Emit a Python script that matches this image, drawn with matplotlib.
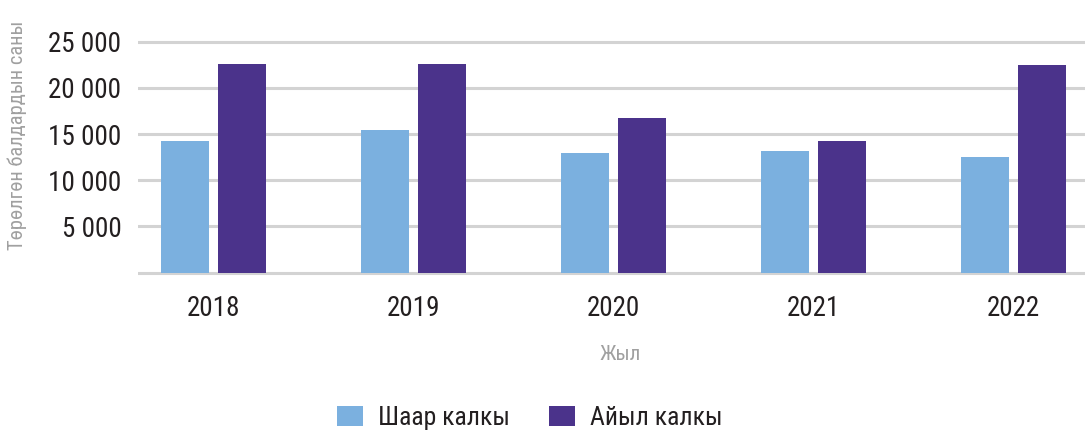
import numpy as np
import matplotlib
matplotlib.use("Agg")
import matplotlib.pyplot as plt

plt.rcParams['font.family'] = ['Roboto Condensed', 'Roboto', 'DejaVu Sans']

# data
years = ["2018", "2019", "2020", "2021", "2022"]
city = [14250, 15440, 12950, 13170, 12520]
rural = [22590, 22590, 16740, 14250, 22480]
series_names = ["Шаар калкы", "Айыл калкы"]
yticks = [0, 5000, 10000, 15000, 20000, 25000]
ytick_labels = ["", "5 000", "10 000", "15 000", "20 000", "25 000"]

c_city = "#7BB0DF"
c_rural = "#4B338B"
text_dark = "#231F20"
text_gray = "#A0A0A0"

fig = plt.figure(figsize=(10.85, 4.3), dpi=100)
ax = fig.add_axes([138 / 1085, 1 - 277.3 / 430, 1 - 138 / 1085, (277.3 - 37.1) / 430])

x = np.arange(len(years))
w = 0.24
off = 0.1425
ax.bar(x - off, city, w, color=c_city, label=series_names[0], zorder=3)
ax.bar(x + off, rural, w, color=c_rural, label=series_names[1], zorder=3)

ax.set_xlim(-0.375, 4.36)
ax.set_ylim(-500, 25500)
ax.set_yticks(yticks)
ax.set_yticklabels(ytick_labels)
ax.set_xticks(x)
ax.set_xticklabels(years)
ax.grid(axis="y", color="#D3D3D3", linewidth=2.2, zorder=0)
for s in ax.spines.values():
    s.set_visible(False)
ax.tick_params(axis="both", length=0, colors=text_dark)
ax.tick_params(axis="x", pad=13, labelsize=19.5)
ax.tick_params(axis="y", pad=12, labelsize=19.5)

fig.text(620 / 1085, 1 - 355 / 430, "Жыл", color=text_gray, fontsize=15,
         ha="center", va="center")
fig.text(17 / 1085, 1 - 135 / 430, "Төрөлгөн балдардын саны", rotation=90,
         color=text_gray, fontsize=14.8, ha="center", va="center")

fig.legend(loc="center", bbox_to_anchor=(530 / 1085, 1 - 418 / 430), ncol=2,
           frameon=False, fontsize=18.5, handlelength=1.0, handleheight=0.85,
           handletextpad=0.6, columnspacing=1.5, labelcolor=text_dark)

fig.savefig("out.png", dpi=100)
